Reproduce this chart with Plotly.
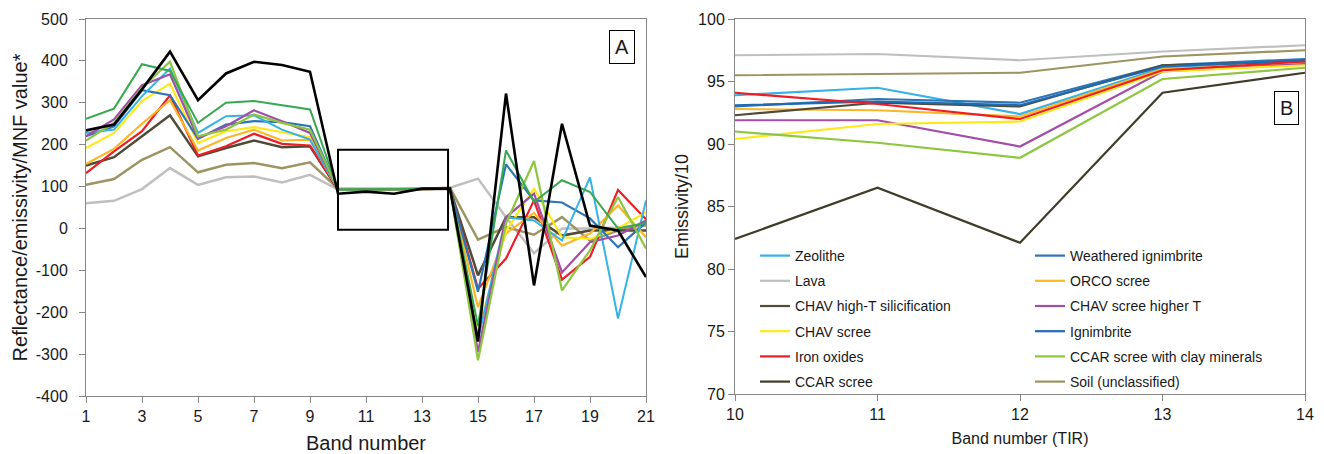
import plotly.graph_objects as go

# ---------------- Panel A data (bands 1..21) ----------------
bands_a = list(range(1, 22))
a_zeolithe = [228, 236, 316, 382, 228, 268, 270, 236, 212, 93, 93, 93, 94, 95, -265, 27, 19, -29, 122, -215, 67]
a_weathered = [220, 244, 330, 318, 214, 248, 256, 254, 244, 93, 93, 93, 94, 95, -151, 153, 67, 62, 24, -45, 15]
a_lava = [60, 66, 94, 144, 104, 122, 124, 110, 128, 93, 93, 93, 94, 97, 119, 27, -59, 0, 0, 2, 10]
a_orco = [154, 190, 250, 306, 186, 216, 236, 210, 212, 93, 93, 93, 94, 95, -188, -12, 37, -41, -12, 55, -21]
a_chav_hight = [150, 170, 220, 270, 172, 192, 210, 194, 196, 93, 93, 93, 94, 95, -112, 27, 27, -17, -5, -5, -5]
a_chav_higher = [220, 260, 342, 368, 216, 244, 282, 256, 228, 93, 93, 93, 94, 95, -295, 27, 83, -105, -33, -17, 19]
a_chav_scree = [192, 228, 304, 346, 204, 232, 242, 230, 218, 93, 93, 93, 94, 95, -247, -6, 95, -21, -25, 0, 39]
a_iron = [132, 184, 232, 318, 174, 196, 226, 202, 198, 93, 93, 93, 94, 95, -144, -72, 67, -122, -68, 92, 22]
a_ccar_clay = [210, 252, 336, 398, 220, 236, 272, 252, 236, 93, 93, 93, 94, 95, -315, 12, 161, -148, -52, 75, -48]
a_soil = [104, 118, 164, 194, 134, 152, 156, 144, 158, 95, 95, 95, 95, 97, -27, 3, -15, 27, -29, -5, 7]
a_black = [234, 248, 332, 422, 306, 370, 398, 390, 374, 83, 88, 83, 95, 95, -270, 322, -136, 250, 7, -5, -116]
a_green = [262, 286, 392, 376, 252, 300, 304, 294, 284, 93, 93, 93, 94, 95, -232, 186, 63, 115, 87, 0, 13]

a_xticks = [1, 3, 5, 7, 9, 11, 13, 15, 17, 19, 21]
a_yticks = [-400, -300, -200, -100, 0, 100, 200, 300, 400, 500]
a_yticktext = ["-400", "-300", "-200", "-100", "0", "100", "200", "300", "400", "500"]

# ---------------- Panel B data (TIR bands 10..14) ----------------
bands_b = [10, 11, 12, 13, 14]
b_names = ["Zeolithe", "Weathered ignimbrite", "Lava", "ORCO scree",
           "CHAV high-T silicification", "CHAV scree higher T", "CHAV scree",
           "Ignimbrite", "Iron oxides", "CCAR scree with clay minerals",
           "CCAR scree", "Soil (unclassified)"]
b_zeolithe = [93.9, 94.5, 92.4, 96.1, 96.7]
b_weathered = [93.0, 93.6, 93.3, 96.3, 96.8]
b_lava = [97.1, 97.2, 96.7, 97.4, 97.9]
b_orco = [92.8, 92.7, 92.2, 96.0, 96.4]
b_chav_hight = [92.3, 93.3, 93.0, 96.3, 96.6]
b_chav_higher = [91.9, 91.9, 89.8, 95.8, 96.4]
b_chav_scree = [90.4, 91.6, 91.8, 95.8, 96.3]
b_ignimbrite = [93.1, 93.4, 93.1, 96.2, 96.7]
b_iron = [94.1, 93.2, 92.0, 95.9, 96.6]
b_ccar_clay = [91.0, 90.1, 88.9, 95.2, 96.1]
b_ccar_scree = [82.4, 86.5, 82.1, 94.1, 95.7]
b_soil = [95.5, 95.6, 95.7, 97.0, 97.5]

# colours
C = {
    "Zeolithe": "#35b2e6",
    "Weathered ignimbrite": "#2e75b6",
    "Lava": "#bfbfbf",
    "ORCO scree": "#fbb62a",
    "CHAV high-T silicification": "#4f4b36",
    "CHAV scree higher T": "#a24da6",
    "CHAV scree": "#ffe81a",
    "Ignimbrite": "#1f6ab0",
    "Iron oxides": "#ee1d25",
    "CCAR scree with clay minerals": "#8dc63f",
    "CCAR scree": "#3f3c2a",
    "Soil (unclassified)": "#9d9463",
}

FONT = "Liberation Sans, Arial, sans-serif"
TXT = "#1a1a1a"
AX = "#868686"

fig = go.Figure()

# Panel A traces
a_series = [
    (a_lava, C["Lava"], 2.5),
    (a_soil, C["Soil (unclassified)"], 2.5),
    (a_chav_hight, C["CHAV high-T silicification"], 2.5),
    (a_iron, C["Iron oxides"], 2.2),
    (a_orco, C["ORCO scree"], 2.2),
    (a_chav_scree, C["CHAV scree"], 2.2),
    (a_weathered, C["Weathered ignimbrite"], 2.2),
    (a_zeolithe, C["Zeolithe"], 2.0),
    (a_chav_higher, C["CHAV scree higher T"], 2.2),
    (a_ccar_clay, C["CCAR scree with clay minerals"], 2.2),
    (a_green, "#36a84f", 2.0),
    (a_black, "#000000", 2.6),
]
for ys, col, w in a_series:
    fig.add_trace(go.Scatter(x=bands_a, y=ys, mode="lines", line=dict(color=col, width=w),
                             showlegend=False, xaxis="x", yaxis="y", hoverinfo="skip"))

# Panel B traces
b_values = [b_zeolithe, b_weathered, b_lava, b_orco, b_chav_hight, b_chav_higher,
            b_chav_scree, b_ignimbrite, b_iron, b_ccar_clay, b_ccar_scree, b_soil]
for i, (name, ys) in enumerate(zip(b_names, b_values)):
    fig.add_trace(go.Scatter(x=bands_b, y=ys, mode="lines", name=name,
                             line=dict(color=C[name], width=2.2),
                             legend="legend" if i % 2 == 0 else "legend2",
                             legendgroup=name,
                             xaxis="x2", yaxis="y2"))

W, H = 1324, 454
def px_x(p): return p / W
def px_y(p): return 1 - p / H

common_axis = dict(showline=True, linecolor=AX, linewidth=1, mirror=True,
                   ticks="outside", ticklen=6, tickcolor=AX, showgrid=False,
                   zeroline=False, tickfont=dict(family=FONT, size=16, color=TXT))

fig.update_layout(
    width=W, height=H,
    margin=dict(l=0, r=0, t=0, b=0),
    paper_bgcolor="white", plot_bgcolor="white",
    font=dict(family=FONT, color=TXT),
    xaxis=dict(domain=[px_x(86), px_x(646)], range=[1, 21], tickvals=a_xticks,
               anchor="y", automargin=False,
               title=dict(text="Band number", font=dict(size=20, family=FONT, color=TXT), standoff=12),
               **common_axis),
    yaxis=dict(domain=[px_y(396), px_y(19)], range=[-400, 500],
               tickvals=a_yticks, ticktext=a_yticktext, ticklabelstandoff=8,
               anchor="x", automargin=False,
               title=dict(text="Reflectance/emissivity/MNF value*", font=dict(size=20, family=FONT, color=TXT), standoff=2),
               **common_axis),
    xaxis2=dict(domain=[px_x(735), px_x(1305)], range=[10, 14], dtick=1,
                anchor="y2", automargin=False,
                title=dict(text="Band number (TIR)", font=dict(size=16, family=FONT, color=TXT), standoff=10),
                **common_axis),
    yaxis2=dict(domain=[px_y(394), px_y(19)], range=[70, 100], dtick=5,
                anchor="x2", automargin=False,
                title=dict(text="Emissivity/10", font=dict(size=18, family=FONT, color=TXT), standoff=4),
                **common_axis),
    legend=dict(x=px_x(755), y=px_y(240), xanchor="left", yanchor="top",
                bgcolor="rgba(0,0,0,0)", font=dict(family=FONT, size=14, color=TXT),
                tracegroupgap=4, itemwidth=30),
    legend2=dict(x=px_x(1030), y=px_y(240), xanchor="left", yanchor="top",
                 bgcolor="rgba(0,0,0,0)", font=dict(family=FONT, size=14, color=TXT),
                 tracegroupgap=4, itemwidth=30),
    shapes=[dict(type="rect", xref="x", yref="y", x0=10, x1=13.93, y0=-3, y1=188,
                 line=dict(color="black", width=2))],
    annotations=[
        dict(x=20.14, y=434, xref="x", yref="y", text="A", showarrow=False,
             font=dict(family=FONT, size=20, color=TXT), bordercolor="black",
             borderwidth=1, borderpad=5, bgcolor="white"),
        dict(x=13.87, y=92.9, xref="x2", yref="y2", text="B", showarrow=False,
             font=dict(family=FONT, size=20, color=TXT), bordercolor="black",
             borderwidth=1, borderpad=5, bgcolor="white"),
    ],
)

fig.write_html("out.html")
